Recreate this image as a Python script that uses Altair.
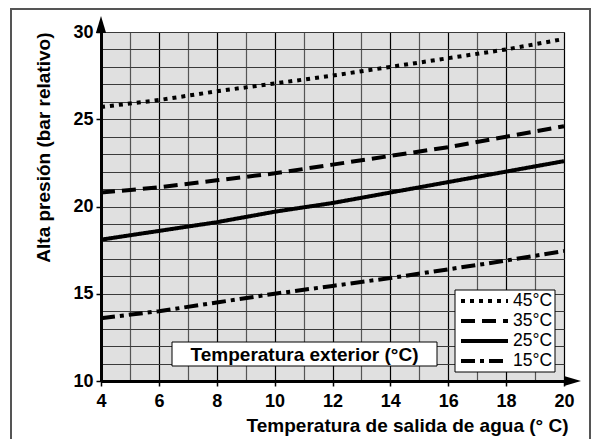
import altair as alt
import pandas as pd

# ---- data ----
x_vals = [4, 6, 8, 10, 12, 14, 16, 18, 20]
series = ["45°C", "35°C", "25°C", "15°C"]
p45 = [25.7, 26.1, 26.6, 27.05, 27.5, 28.0, 28.5, 29.0, 29.6]
p35 = [20.8, 21.1, 21.5, 21.9, 22.4, 22.9, 23.4, 24.0, 24.6]
p25 = [18.1, 18.6, 19.1, 19.7, 20.2, 20.8, 21.4, 22.0, 22.6]
p15 = [13.6, 14.0, 14.5, 15.0, 15.45, 15.9, 16.4, 16.9, 17.45]
x_ticks = list(range(4, 21))
y_ticks = list(range(10, 31))
box_label = "Temperatura exterior (°C)"
x_title = "Temperatura de salida de agua (° C)"
y_title = "Alta presión (bar relativo)"

rows = []
for name, vals in zip(series, [p45, p35, p25, p15]):
    for xv, yv in zip(x_vals, vals):
        rows.append({"series": name, "x": xv, "y": yv})
df = pd.DataFrame(rows)
leg_df = pd.DataFrame({"series": series})
one = pd.DataFrame({"k": [0]})

FONT = "Liberation Sans"
dash_scale = alt.Scale(domain=series, range=[[4, 5], [14, 7], [1, 0], [14, 5, 4, 5]])

x_enc = alt.X(
    "x:Q",
    scale=alt.Scale(domain=[4, 20], nice=False),
    axis=alt.Axis(
        values=x_ticks,
        labelExpr="datum.value % 2 == 0 ? datum.label : ''",
        tickOpacity={"condition": {"test": "datum.value % 2 == 0", "value": 1}, "value": 0},
        gridColor={"condition": {"test": "datum.value % 2 == 0", "value": "#000000"}, "value": "#555555"},
        gridWidth=1.2,
        gridOpacity=1,
        domainColor="black",
        domainWidth=3,
        tickColor="black",
        tickWidth=1.5,
        tickSize=5,
        labelPadding=6,
        labelFont=FONT,
        labelFontSize=18,
        labelFontWeight="bold",
        labelColor="black",
        labelFlush=False,
        title=x_title,
        titleFont=FONT,
        titleFontSize=19,
        titleFontWeight="bold",
        titleColor="black",
        titleX=467,
        titleY=44,
        titleAlign="right",
        titleBaseline="middle",
        titleAnchor="end",
    ),
)
y_enc = alt.Y(
    "y:Q",
    scale=alt.Scale(domain=[10, 30], nice=False),
    axis=alt.Axis(
        values=y_ticks,
        labelExpr="datum.value % 5 == 0 ? datum.label : ''",
        tickOpacity={"condition": {"test": "datum.value % 5 == 0", "value": 1}, "value": 0},
        gridColor="#3a3a3a",
        gridWidth=1.2,
        gridOpacity=1,
        domainColor="black",
        domainWidth=3,
        tickColor="black",
        tickWidth=1.5,
        tickSize=5,
        labelPadding=3,
        labelFont=FONT,
        labelFontSize=18,
        labelFontWeight="bold",
        labelColor="black",
        labelFlush=False,
        title=y_title,
        titleFont=FONT,
        titleFontSize=19,
        titleFontWeight="bold",
        titleColor="black",
        titleX=-58,
        titleY=0,
        titleAngle=270,
        titleAlign="right",
        titleBaseline="middle",
        titleAnchor="end",
    ),
)

lines = alt.Chart(df).mark_line(color="black", strokeWidth=4, strokeCap="butt").encode(
    x=x_enc,
    y=y_enc,
    strokeDash=alt.StrokeDash("series:N", scale=dash_scale, legend=None),
    detail="series:N",
)

# outer frame
frame = alt.Chart(one).mark_rect(fill=None, stroke="#555555", strokeWidth=2).encode(
    x=alt.value(-90), x2=alt.value(489), y=alt.value(-23), y2=alt.value(440)
)

# arrows
arrow_up = alt.Chart(one).mark_point(
    shape="M0,-1L0.6,1L-0.6,1Z", filled=True, color="black", opacity=1, size=289
).encode(x=alt.value(0), y=alt.value(-7.5))
arrow_right = alt.Chart(one).mark_point(
    shape="M1,0L-1,-0.6L-1,0.6Z", filled=True, color="black", opacity=1, size=289
).encode(x=alt.value(471.5), y=alt.value(349))

# "Temperatura exterior" box
tbox = alt.Chart(one).mark_rect(fill="white", stroke="black", strokeWidth=1).encode(
    x=alt.value(71), x2=alt.value(336), y=alt.value(310), y2=alt.value(334)
)
ttext = alt.Chart(one).mark_text(
    text=box_label, font=FONT, fontSize=19, fontWeight="bold", color="black",
    align="center", baseline="middle"
).encode(x=alt.value(203.5), y=alt.value(323))

# legend
lbox = alt.Chart(one).mark_rect(fill="white", stroke="black", strokeWidth=1).encode(
    x=alt.value(354), x2=alt.value(454), y=alt.value(258), y2=alt.value(340)
)
leg_y = alt.Y("series:N", scale=alt.Scale(type="point", domain=series, range=[269, 329], padding=0), axis=None)
lrules = alt.Chart(leg_df).mark_rule(color="black", strokeWidth=4, strokeCap="butt").encode(
    x=alt.value(360), x2=alt.value(407), y=leg_y,
    strokeDash=alt.StrokeDash("series:N", scale=dash_scale, legend=None),
)
ltext = alt.Chart(leg_df).mark_text(
    font=FONT, fontSize=17.5, color="black", align="left", baseline="middle"
).encode(x=alt.value(412), y=leg_y, text="series:N")

chart = alt.layer(
    lines, frame, arrow_up, arrow_right, tbox, ttext, lbox, lrules, ltext
).resolve_scale(y="independent").properties(
    width=463,
    height=349,
    autosize=alt.AutoSizeParams(type="none"),
    padding={"left": 93, "top": 24, "right": 28, "bottom": 58},
    background="white",
).configure_view(fill="#e0e0e0", stroke="#333333", strokeWidth=1)

chart.save("out.html", embed_options={"renderer": "svg", "actions": False})
